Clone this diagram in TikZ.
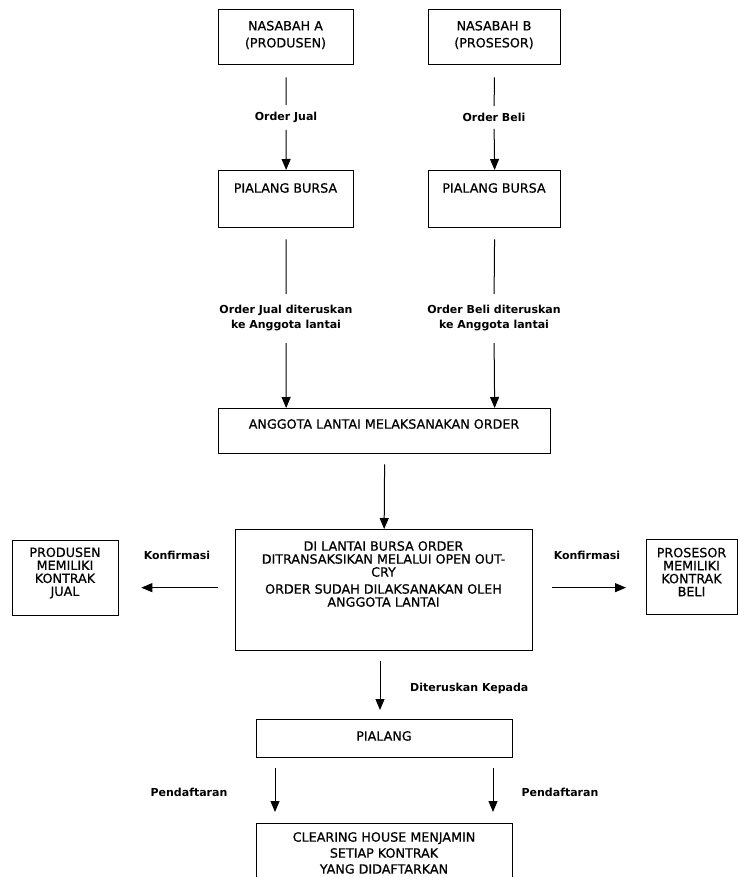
\documentclass[tikz,border=0pt]{standalone}
\usepackage{fontspec}
\setmainfont{DejaVu Sans}
\newfontfamily\boxfont[FakeBold=0.6]{DejaVu Sans}
\usetikzlibrary{arrows.meta}
\begin{document}
\begin{tikzpicture}[x=1pt,y=-1pt,
  box/.style={draw, line width=1.3pt, inner sep=0pt, anchor=north west},
  txt/.style={font=\boxfont\fontsize{12.7}{13}\selectfont, align=center, inner sep=0pt},
  lbl/.style={font=\bfseries\fontsize{11}{15}\selectfont, align=center, inner sep=0pt},
  arr/.style={line width=1pt, -{Triangle[length=11pt,width=9pt]}},
  ln/.style={line width=1pt}]
\useasboundingbox (0,0) rectangle (739,877);
\fill[white] (0,0) rectangle (739,877);

% top boxes
\node[box, minimum width=135pt, minimum height=55pt] (nasA) at (218,9) {};
\node[txt, font=\boxfont\fontsize{12.7}{17}\selectfont] (nasAt) at (285.5,35) {NASABAH A\\(PRODUSEN)};
\node[box, minimum width=132pt, minimum height=55pt] (nasB) at (428,9) {};
\node[txt, font=\boxfont\fontsize{12.7}{17}\selectfont] (nasBt) at (494,35) {NASABAH B\\(PROSESOR)};

\node[lbl] (lblA1) at (286,117) {Order Jual};
\node[lbl] (lblB1) at (494,117) {Order Beli};

\node[box, minimum width=135pt, minimum height=57pt] (pbA) at (218,170) {};
\node[txt] (pbAt) at (285.5,188) {PIALANG BURSA};
\node[box, minimum width=132pt, minimum height=57pt] (pbB) at (428,170) {};
\node[txt] (pbBt) at (494,188) {PIALANG BURSA};

\draw[ln, shorten <=12pt, shorten >=6.5pt] (nasA.south) -- (lblA1.north);
\draw[arr, shorten <=7.5pt] (lblA1.south) -- (pbA.north);
\draw[ln, shorten <=12pt, shorten >=6.5pt] (nasB.south) -- (lblB1.north);
\draw[arr, shorten <=7.5pt] (lblB1.south) -- (pbB.north);

\node[lbl] (lblA2) at (286,318) {Order Jual diteruskan\\ke Anggota lantai};
\node[lbl] (lblB2) at (494,318) {Order Beli diteruskan\\ke Anggota lantai};

\node[box, minimum width=332pt, minimum height=45pt] (ang) at (218,408) {};
\node[txt] (angt) at (384,424) {ANGGOTA LANTAI MELAKSANAKAN ORDER};

\draw[ln, shorten <=11pt, shorten >=11pt] (pbA.south) -- (lblA2.north);
\draw[arr, shorten <=12pt] (lblA2.south) -- (pbA.south |- ang.north);
\draw[ln, shorten <=11pt, shorten >=11pt] (pbB.south) -- (lblB2.north);
\draw[arr, shorten <=12pt] (lblB2.south) -- (pbB.south |- ang.north);

% central
\node[box, minimum width=297pt, minimum height=121pt] (central) at (235,529) {};
\node[txt, anchor=north] (centralt) at (383.5,541) {DI LANTAI BURSA ORDER\\DITRANSAKSIKAN MELALUI OPEN OUT-\\CRY\\[4pt]ORDER SUDAH DILAKSANAKAN OLEH\\ANGGOTA LANTAI};
\draw[arr, shorten <=10pt] (ang.south) -- (central.north);

% side boxes
\node[box, minimum width=106pt, minimum height=75pt] (prod) at (12,540) {};
\node[txt] (prodt) at (65,573) {PRODUSEN\\MEMILIKI\\KONTRAK\\JUAL};
\node[box, minimum width=91pt, minimum height=75pt] (pros) at (646,539) {};
\node[txt] (prost) at (691.5,572) {PROSESOR\\MEMILIKI\\KONTRAK\\BELI};

\node[lbl] (konfL) at (177,555) {Konfirmasi};
\node[lbl] (konfR) at (587,555) {Konfirmasi};
\draw[arr, shorten <=17pt, shorten >=22pt] ([yshift=2.5pt]central.west) -- ([yshift=2.5pt]central.west -| prod.east);
\draw[arr, shorten <=19pt, shorten >=20pt] ([yshift=2.5pt]central.east) -- ([yshift=2.5pt]central.east -| pros.west);

% pialang
\node[box, minimum width=256pt, minimum height=38pt] (pialang) at (256,719) {};
\node[txt] (pialangt) at (384,736) {PIALANG};
\coordinate (xM) at (380,0);
\draw[arr, shorten <=10pt, shorten >=9pt] (central.south -| xM) -- (pialang.north -| xM);
\node[lbl, anchor=west] (dit) at (410,688) {Diteruskan Kepada};

% clearing
\node[box, minimum width=256pt, minimum height=80pt] (clear) at (256,823) {};
\node[txt, anchor=north, font=\boxfont\fontsize{12.7}{16}\selectfont] (cleart) at (384,832) {CLEARING HOUSE MENJAMIN\\SETIAP KONTRAK\\YANG DIDAFTARKAN};
\coordinate (xL) at (275,0);
\coordinate (xR) at (493,0);
\draw[arr, shorten <=10pt, shorten >=11pt] (pialang.south -| xL) -- (clear.north -| xL);
\draw[arr, shorten <=10pt, shorten >=11pt] (pialang.south -| xR) -- (clear.north -| xR);
\node[lbl] (pendL) at (189,792) {Pendaftaran};
\node[lbl] (pendR) at (560,792) {Pendaftaran};
\end{tikzpicture}
\end{document}
